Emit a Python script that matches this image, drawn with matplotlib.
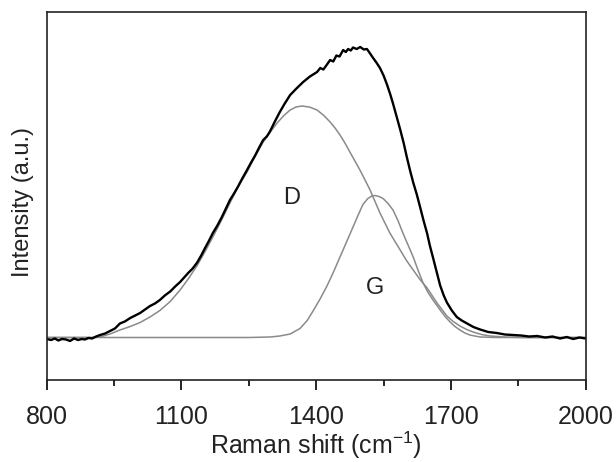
"""Raman spectrum with D and G band fits."""

import matplotlib

matplotlib.use("Agg")
import matplotlib.pyplot as plt  # noqa: E402

plt.rcParams["font.family"] = ["Liberation Sans", "DejaVu Sans"]

# measured spectrum (cm^-1, a.u.)
spec_x = [800, 810, 818, 826, 834, 843, 852, 861, 870, 878, 885, 893, 901,
          910, 919, 930, 941, 952, 963, 974, 986, 997, 1008, 1019, 1030,
          1041, 1052, 1063, 1075, 1086, 1097, 1106, 1115, 1125, 1135, 1144,
          1152, 1161, 1170, 1180, 1190, 1199, 1208, 1217, 1226, 1236, 1246,
          1255, 1264, 1273, 1282, 1290, 1297, 1308, 1319, 1330, 1342, 1356,
          1371, 1386, 1402, 1409, 1416, 1424, 1431, 1438, 1445, 1452, 1460,
          1466, 1471, 1477, 1482, 1490, 1498, 1506, 1513, 1520, 1526, 1534,
          1542, 1550, 1558, 1565, 1571, 1579, 1587, 1595, 1602, 1609, 1616,
          1624, 1631, 1639, 1647, 1653, 1660, 1668, 1676, 1684, 1691, 1702,
          1713, 1724, 1736, 1750, 1765, 1783, 1802, 1820, 1838, 1856, 1874,
          1892, 1910, 1926, 1943, 1958, 1972, 1986, 2000]
spec_y = [-1.5, -2.5, -1.0, -3.0, -1.5, -2.0, -3.5, -1.0, -2.5, -1.5, -2.0,
          -0.5, -1.0, 1.0, 2.5, 4.0, 6.5, 9.0, 14.0, 16.0, 19.5, 22.0, 24.5,
          28.0, 31.5, 34.0, 37.5, 42.0, 46.0, 51.0, 55.5, 60.0, 64.5, 69.0,
          75.0, 82.0, 89.0, 96.5, 104.5, 112.0, 120.5, 129.0, 137.5, 144.0,
          151.0, 159.5, 167.5, 175.0, 182.0, 190.0, 197.5, 201.0, 206.0,
          216.0, 225.5, 234.0, 242.5, 249.0, 255.5, 261.0, 265.5, 269.5,
          268.0, 273.0, 277.5, 276.0, 282.0, 281.0, 287.5, 285.5, 288.5,
          287.0, 290.0, 288.5, 290.5, 288.0, 288.5, 284.0, 280.0, 275.0,
          269.5, 262.0, 252.5, 243.0, 234.0, 221.0, 208.0, 194.0, 180.0,
          167.0, 155.0, 143.0, 131.0, 117.0, 104.0, 92.0, 80.0, 66.0, 52.0,
          42.0, 35.0, 27.0, 20.5, 17.0, 14.0, 10.5, 8.0, 5.5, 4.5, 3.0, 2.5,
          2.0, 1.0, 1.5, 0.0, 1.0, -1.0, 0.5, -1.5, 0.0, -1.0]

# fitted D band
d_x = [800, 900, 919, 941, 963, 986, 1008, 1030, 1052, 1075, 1097, 1115,
       1135, 1152, 1170, 1190, 1208, 1226, 1246, 1264, 1282, 1297, 1313,
       1328, 1342, 1355, 1368, 1385, 1402, 1417, 1431, 1442, 1453, 1464,
       1475, 1498, 1520, 1542, 1564, 1587, 1601, 1616, 1631, 1647, 1669,
       1691, 1705, 1720, 1735, 1749, 1768, 1787, 1804, 1820, 1860, 2000]
d_y = [0.0, 0.0, 0.5, 3.5, 7.5, 11.0, 15.0, 20.5, 27.0, 36.0, 47.5, 58.5,
       72.0, 85.5, 100.5, 118.0, 134.5, 150.5, 165.5, 181.0, 195.5, 205.0,
       214.5, 222.0, 227.5, 230.5, 231.5, 230.5, 227.5, 222.0, 215.5, 209.5,
       202.5, 194.5, 185.5, 167.0, 147.5, 124.5, 104.5, 87.5, 77.0, 67.5,
       58.0, 49.5, 34.5, 21.5, 16.0, 11.5, 8.0, 5.5, 3.0, 1.5, 1.0, 0.5,
       0.0, 0.0]

# fitted G band
g_x = [800, 1250, 1297, 1319, 1342, 1364, 1380, 1393, 1408, 1424, 1438,
       1453, 1468, 1482, 1494, 1504, 1515, 1524, 1531, 1540, 1549, 1560,
       1571, 1582, 1593, 1605, 1616, 1627, 1638, 1649, 1660, 1676, 1687,
       1698, 1709, 1720, 1731, 1742, 1753, 1765, 1800, 2000]
g_y = [0.0, 0.0, 0.5, 1.5, 3.5, 9.0, 17.0, 26.5, 38.0, 51.5, 65.0, 80.5,
       96.0, 110.5, 123.0, 133.0, 139.0, 141.5, 142.0, 141.0, 139.0, 134.0,
       127.5, 117.0, 104.5, 92.0, 80.5, 67.0, 54.5, 45.0, 37.5, 27.5, 21.0,
       15.5, 11.0, 7.5, 4.5, 2.5, 1.5, 0.5, 0.0, 0.0]

x_ticks = [800, 1100, 1400, 1700, 2000]
x_minor = [950, 1250, 1550, 1850]

band_labels = ["D", "G"]
band_label_x = [1346, 1531]
band_label_y = [140, 49]

fig = plt.figure(figsize=(6.16, 4.62), dpi=100)
ax = fig.add_axes([0.0758, 0.1775, 0.875, 0.7965])

ax.plot(d_x, d_y, color="#8a8a8a", linewidth=1.1)
ax.plot(g_x, g_y, color="#8a8a8a", linewidth=1.1)
ax.plot(spec_x, spec_y, color="black", linewidth=1.7)

for lab, lx, ly in zip(band_labels, band_label_x, band_label_y):
    ax.text(lx, ly, lab, fontsize=17, color="#222222",
            ha="center", va="center")

ax.set_xlim(800, 2000)
ax.set_ylim(-42.5, 325.5)
ax.set_xticks(x_ticks)
ax.set_xticks(x_minor, minor=True)
ax.set_yticks([])
ax.tick_params(axis="x", which="major", direction="out", length=7,
               width=1.2, labelsize=18, labelcolor="#222222", pad=11)
ax.tick_params(axis="x", which="minor", direction="out", length=4,
               width=1.2)
for sp in ax.spines.values():
    sp.set_linewidth(1.2)
    sp.set_color("#222222")

ax.set_xlabel(r"Raman shift (cm$^{\mathregular{-1}}$)", fontsize=18,
              color="#222222")
ax.xaxis.set_label_coords(0.5, -0.135)
ax.set_ylabel("Intensity (a.u.)", fontsize=17, color="#222222")
ax.yaxis.set_label_coords(-0.024, 0.485)

fig.savefig("out.png", dpi=100)
